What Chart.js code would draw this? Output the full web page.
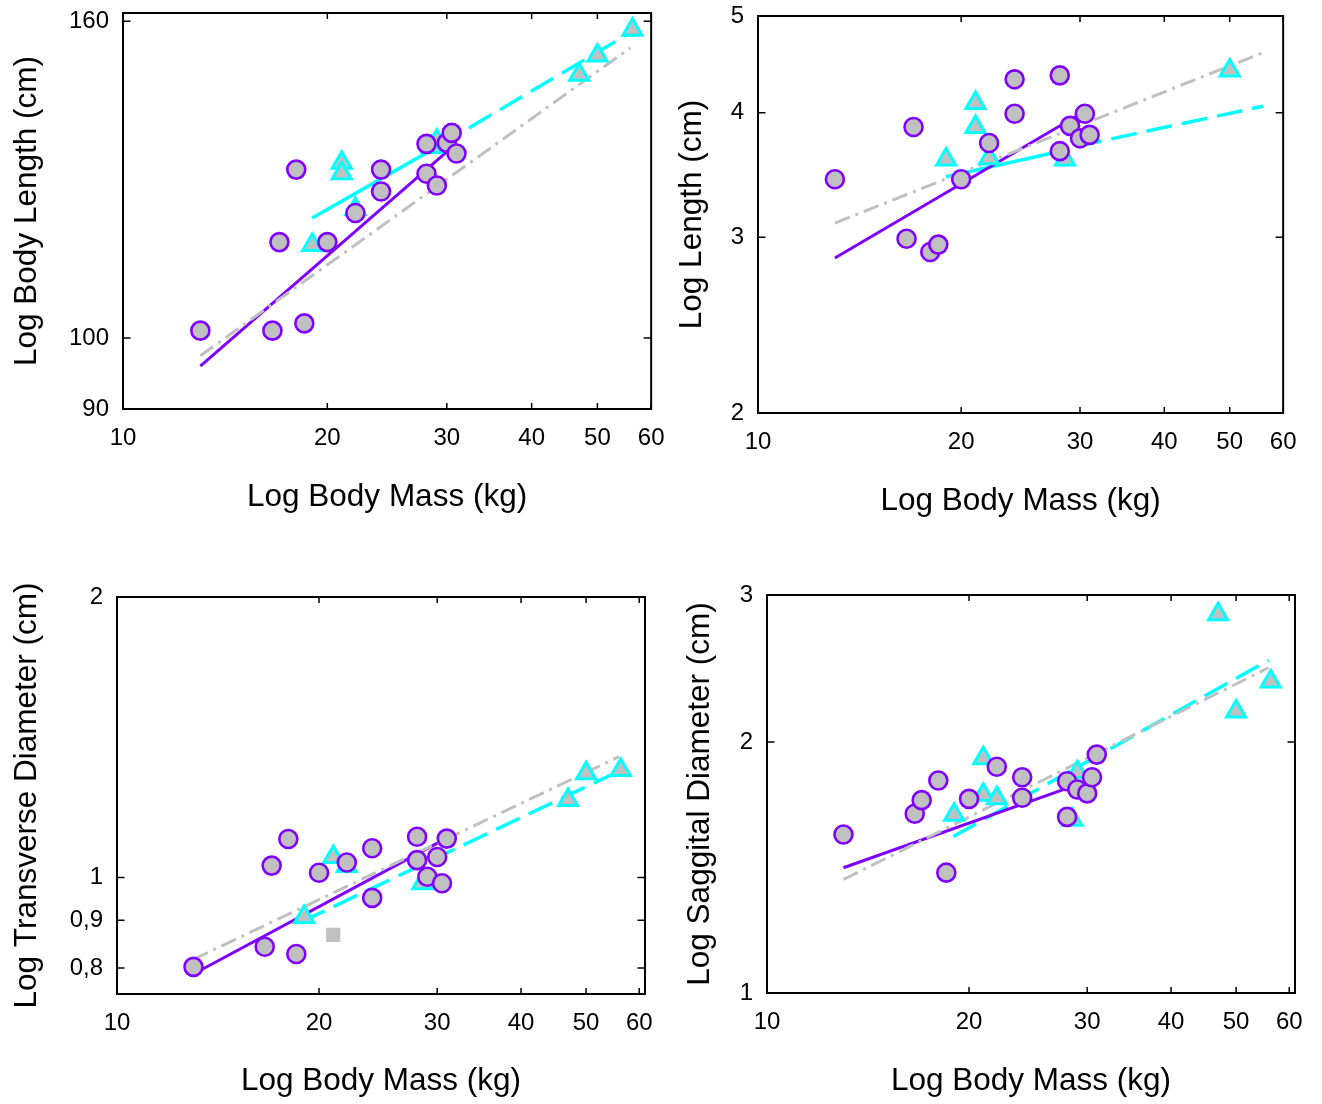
<!DOCTYPE html>
<html>
<head>
<meta charset="utf-8">
<script src="https://cdn.jsdelivr.net/npm/chart.js@4"></script>
<style>
  body { margin: 0; background: #fff; width: 1322px; height: 1104px; position: relative; overflow: hidden; }
  canvas { position: absolute; }
</style>
</head>
<body>
<canvas id="lengthChart"></canvas>
<canvas id="lenChart"></canvas>
<canvas id="transverseChart"></canvas>
<canvas id="sagittalChart"></canvas>
<script>
// ---- data ----
const massTicks = [10, 20, 30, 40, 50, 60];
const circleMass = [13.0, 16.6, 17.0, 18.0, 18.5, 20.0, 22.0, 24.0, 24.0, 28.0, 28.0, 29.0, 30.0, 30.5, 31.0];
const triangleMass = [19.0, 21.0, 21.0, 22.0, 28.5, 29.0, 47.0, 50.0, 56.3];

// body length
const bodyLengthTicks = [90, 100, 160];
const bodyLengthCircles = [101.1, 101.1, 115.3, 128.4, 102.2, 115.3, 120.4, 128.4, 124.3, 133.4, 127.6, 125.4, 133.6, 135.6, 131.5];
const bodyLengthTriangles = [114.8, 129.7, 127.7, 121.1, 132.8, 134.0, 147.8, 152.1, 158.0];
const bodyLengthFitPurple = [[13.0, 95.9], [31.0, 133.5]];
const bodyLengthFitCyan = [[19.0, 119.5], [29.1, 132.9]];
const bodyLengthFitCyanDash = [[29.1, 132.9], [56.7, 157.9]];
const bodyLengthFitGray = [[13.0, 97.4], [55.9, 153.8]];

// length
const lengthTicks = [2, 3, 4, 5];
const lengthCircles = [3.43, 2.99, 3.87, 2.90, 2.95, 3.43, 3.73, 4.32, 3.99, 4.36, 3.66, 3.88, 3.77, 3.99, 3.80];
const lengthTriangles = [3.59, 4.09, 3.87, 3.60, 3.59, null, null, 4.41, null];
const lengthFitPurple = [[13.0, 2.86], [30.8, 4.03]];
const lengthFitCyan = [[19.0, 3.45], [28.6, 3.67]];
const lengthFitCyanDash = [[29.6, 3.70], [56.0, 4.06]];
const lengthFitGray = [[13.0, 3.10], [55.8, 4.59]];

// transverse diameter
const transverseTicks = [0.8, 0.9, 1, 2];
const transverseTickLabels = ['0,8', '0,9', '1', '2'];
const transverseCircles = [0.802, 0.843, 1.030, 1.100, 0.828, 1.012, 1.038, 1.075, 0.951, 1.106, 1.044, 1.002, 1.052, 0.986, 1.101];
const transverseTriangles = [0.907, 1.052, null, 1.029, 0.986, null, 1.211, 1.294, 1.304];
const transverseSquare = [[21.0, 0.868]];
const transverseFitPurple = [[13.0, 0.788], [30.6, 1.097]];
const transverseFitCyanDash = [[18.8, 0.896], [56.4, 1.304]];
const transverseFitGray = [[13.0, 0.817], [56.0, 1.348]];

// sagittal diameter
const sagittalTicks = [1, 2, 3];
const sagittalCircles = [1.549, 1.640, 1.703, 1.798, 1.394, 1.709, 1.867, 1.814, 1.714, 1.794, 1.626, 1.754, 1.735, 1.814, 1.931];
const sagittalTriangles = [1.636, 1.912, 1.728, 1.712, 1.613, 1.839, 2.845, 2.175, 2.363];
const sagittalFitPurple = [[13.0, 1.413], [30.5, 1.803]];
const sagittalFitCyanDash = [[18.95, 1.54], [55.9, 2.506]];
const sagittalFitGray = [[13.0, 1.368], [55.9, 2.454]];

// ---- styling ----
const PURPLE = '#8000ff', CYAN = '#00ffff', GREY = '#c0c0c0';
const FAMILY = '"Liberation Sans", Arial, sans-serif';
const tickFont = { family: FAMILY, size: 24, lineHeight: 1 };
const titleFont = { family: FAMILY, size: 31.5, lineHeight: 1 };
const L = 123, T = 30, R = 30, B = 110;

const pts = (xs, ys) => xs.map((x, i) => ({ x: x, y: ys[i] })).filter(p => p.y !== null);
const seg = pairs => pairs.map(([x, y]) => ({ x: x, y: y }));

function circles(ys) {
    return { data: pts(circleMass, ys), pointStyle: 'circle', pointRadius: 9, borderWidth: 2.6,
             backgroundColor: GREY, borderColor: PURPLE, showLine: false };
}
function triangles(ys) {
    return { data: pts(triangleMass, ys), pointStyle: 'triangle', pointRadius: 11, borderWidth: 3,
             backgroundColor: GREY, borderColor: CYAN, showLine: false };
}
function line(pairs, color, width, dash) {
    return { data: seg(pairs), showLine: true, pointRadius: 0, borderColor: color,
             borderWidth: width, borderDash: dash || [], borderCapStyle: 'butt' };
}

// box + inward tick marks on all four sides
const framePlugin = {
    id: 'frame',
    afterDraw(chart) {
        const { ctx, chartArea: a, scales: { x, y } } = chart;
        ctx.save();
        ctx.strokeStyle = '#000';
        ctx.lineWidth = 1.5;
        ctx.beginPath();
        x.ticks.forEach(t => {
            const px = x.getPixelForValue(t.value);
            ctx.moveTo(px, a.bottom); ctx.lineTo(px, a.bottom - 6);
            ctx.moveTo(px, a.top); ctx.lineTo(px, a.top + 6);
        });
        y.ticks.forEach(t => {
            const py = y.getPixelForValue(t.value);
            ctx.moveTo(a.left, py); ctx.lineTo(a.left + 7.5, py);
            ctx.moveTo(a.right, py); ctx.lineTo(a.right - 7.5, py);
        });
        ctx.stroke();
        ctx.lineWidth = 2;
        ctx.strokeRect(a.left, a.top, a.right - a.left, a.bottom - a.top);
        ctx.restore();
    }
};

function makePanel(id, box, yCfg, datasets) {
    const canvas = document.getElementById(id);
    const contLeft = box.left - L, contTop = box.top - T;
    const w = box.right - box.left + L + R, h = box.bottom - box.top + T + B;
    canvas.width = w; canvas.height = h;
    canvas.style.left = contLeft + 'px'; canvas.style.top = contTop + 'px';
    const yPad = box.yTitleX - contLeft - titleFont.size / 2;
    const xPad = contTop + h - box.xTitleY - titleFont.size / 2;

    new Chart(canvas.getContext('2d'), {
        type: 'scatter',
        data: { datasets: datasets },
        options: {
            responsive: false, animation: false, events: [],
            layout: { padding: { left: 0, top: T, right: R, bottom: 0 } },
            plugins: { legend: { display: false }, tooltip: { enabled: false } },
            elements: { point: { hitRadius: 0 } },
            datasets: { scatter: { clip: false } },
            scales: {
                x: {
                    type: 'logarithmic', position: 'bottom', min: 10, max: box.xMax,
                    afterBuildTicks: s => { s.ticks = massTicks.map(v => ({ value: v })); },
                    afterFit: s => { s.height = B; },
                    grid: { display: false, drawTicks: false }, border: { display: false },
                    ticks: { autoSkip: false, maxRotation: 0, padding: 17.5, color: '#000', font: tickFont,
                             callback: v => String(v) },
                    title: { display: true, text: 'Log Body Mass (kg)', color: '#000', font: titleFont,
                             padding: { top: 0, bottom: xPad } }
                },
                y: {
                    type: 'logarithmic', position: 'left', min: yCfg.min, max: yCfg.max,
                    afterBuildTicks: s => { s.ticks = yCfg.ticks.map(v => ({ value: v })); },
                    afterFit: s => { s.width = L; },
                    grid: { display: false, drawTicks: false }, border: { display: false },
                    ticks: { autoSkip: false, padding: 14, color: '#000', font: tickFont,
                             callback: v => {
                                 const i = yCfg.ticks.indexOf(v);
                                 return yCfg.labels ? yCfg.labels[i] : String(v);
                             } },
                    title: { display: true, text: yCfg.title, color: '#000', font: titleFont,
                             padding: { top: yPad, bottom: 0 } }
                }
            }
        },
        plugins: [framePlugin]
    });
}

makePanel('lengthChart',
    { left: 123, top: 13, right: 652, bottom: 409, xMax: 60, yTitleX: 27, xTitleY: 497 },
    { min: 90, max: 162, ticks: bodyLengthTicks, title: 'Log Body Length (cm)' },
    [
        circles(bodyLengthCircles),
        triangles(bodyLengthTriangles),
        line(bodyLengthFitGray, GREY, 3, [16, 6, 3, 6]),
        line(bodyLengthFitPurple, PURPLE, 3),
        line(bodyLengthFitCyan, CYAN, 3.5),
        line(bodyLengthFitCyanDash, CYAN, 3.5, [26, 10])
    ]);

makePanel('lenChart',
    { left: 758, top: 16, right: 1284, bottom: 413, xMax: 60, yTitleX: 692, xTitleY: 501 },
    { min: 2, max: 5, ticks: lengthTicks, title: 'Log Length (cm)' },
    [
        circles(lengthCircles),
        triangles(lengthTriangles),
        line(lengthFitGray, GREY, 3, [16, 6, 3, 6]),
        line(lengthFitPurple, PURPLE, 3),
        line(lengthFitCyan, CYAN, 3.5),
        line(lengthFitCyanDash, CYAN, 3.5, [26, 10])
    ]);

makePanel('transverseChart',
    { left: 117, top: 597, right: 645, bottom: 994, xMax: 61.2, yTitleX: 27, xTitleY: 1081 },
    { min: 0.75, max: 2, ticks: transverseTicks, labels: transverseTickLabels, title: 'Log Transverse Diameter (cm)' },
    [
        circles(transverseCircles),
        triangles(transverseTriangles),
        { data: seg(transverseSquare), pointStyle: 'rect', pointRadius: 10, borderWidth: 0,
          backgroundColor: GREY, showLine: false },
        line(transverseFitGray, GREY, 3, [16, 6, 3, 6]),
        line(transverseFitPurple, PURPLE, 3),
        line(transverseFitCyanDash, CYAN, 3.5, [26, 10])
    ]);

makePanel('sagittalChart',
    { left: 767, top: 595, right: 1295, bottom: 993, xMax: 61.2, yTitleX: 700, xTitleY: 1081 },
    { min: 1, max: 3, ticks: sagittalTicks, title: 'Log Saggital Diameter (cm)' },
    [
        circles(sagittalCircles),
        triangles(sagittalTriangles),
        line(sagittalFitGray, GREY, 3, [16, 6, 3, 6]),
        line(sagittalFitPurple, PURPLE, 3),
        line(sagittalFitCyanDash, CYAN, 3.5, [26, 10])
    ]);
</script>
</body>
</html>
